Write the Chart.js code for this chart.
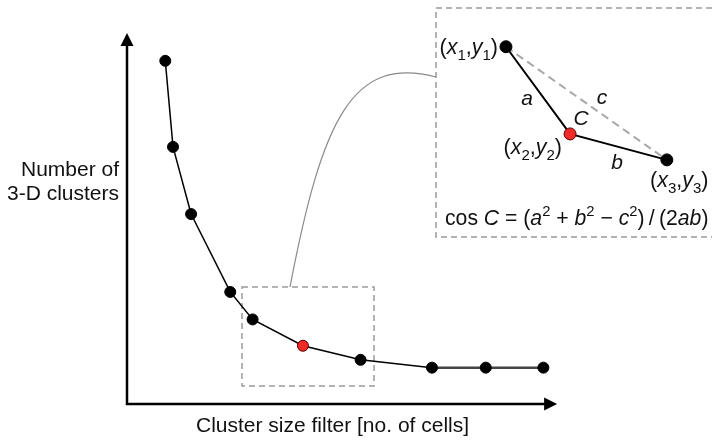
<!DOCTYPE html>
<html>
<head>
<meta charset="utf-8">
<script src="https://cdn.jsdelivr.net/npm/chart.js@4/dist/chart.umd.min.js"></script>
<style>
  body { margin: 0; background: #fff; }
  #wrap { width: 713px; height: 440px; position: relative; }
</style>
</head>
<body>
<div id="wrap"><canvas id="elbowChart"></canvas></div>
<script>
// main curve (arbitrary units, drawn axis runs 0..100)
var clusterSize  = [8.9, 10.7, 14.9, 24.0, 29.2, 40.9, 54.3, 70.9, 83.4, 96.8];
var clusterCount = [92.5, 69.3, 51.2, 30.2, 22.8, 15.7, 11.9, 9.8, 9.8, 9.8];
var kneeIndex = 5;

// inset triangle (x1,y1) (x2,y2) (x3,y3)
var insetX = [88.1, 103.0, 125.5];
var insetY = [96.3, 72.8, 65.8];

var FONT = '"Liberation Sans", Arial, Helvetica, sans-serif';

function toPoints(xs, ys) {
  return xs.map(function (x, i) { return { x: x, y: ys[i] }; });
}

// draws text made of runs: {t, it, sub, sup}
function richText(ctx, x, y, runs, size, align) {
  var parts = runs.map(function (r) {
    var s = (r.sub || r.sup) ? size * 0.7 : size;
    var f = (r.it ? 'italic ' : '') + s + 'px ' + FONT;
    ctx.font = f;
    return { t: r.t, f: f, w: ctx.measureText(r.t).width, dy: r.sub ? size * 0.3 : (r.sup ? -size * 0.42 : 0) };
  });
  var total = parts.reduce(function (a, p) { return a + p.w; }, 0);
  var cx = align === 'right' ? x - total : (align === 'center' ? x - total / 2 : x);
  ctx.textAlign = 'left';
  ctx.textBaseline = 'alphabetic';
  parts.forEach(function (p) {
    ctx.font = p.f;
    ctx.fillText(p.t, cx, y + p.dy);
    cx += p.w;
  });
}

function pointLabel(n) {
  return [{ t: '(' }, { t: 'x', it: true }, { t: String(n), sub: true }, { t: ',' },
          { t: 'y', it: true }, { t: String(n), sub: true }, { t: ')' }];
}

var decorations = {
  id: 'decorations',
  beforeDatasetsDraw: function (chart) {
    var ctx = chart.ctx;
    var xs = chart.scales.x, ys = chart.scales.y;
    var x0 = xs.getPixelForValue(0), xEnd = xs.getPixelForValue(100);
    var y0 = ys.getPixelForValue(0), yEnd = ys.getPixelForValue(100);
    ctx.save();

    // dashed boxes
    ctx.strokeStyle = '#9a9a9a';
    ctx.lineWidth = 1.5;
    ctx.setLineDash([6, 4]);
    ctx.strokeRect(242, 287, 132, 99);
    ctx.beginPath();
    ctx.moveTo(712, 8); ctx.lineTo(436, 8); ctx.lineTo(436, 237); ctx.lineTo(712, 237);
    ctx.stroke();
    ctx.setLineDash([]);

    // connector
    ctx.strokeStyle = '#8a8a8a';
    ctx.lineWidth = 1.2;
    ctx.beginPath();
    ctx.moveTo(290, 287);
    ctx.bezierCurveTo(322, 120, 352, 55, 436, 77);
    ctx.stroke();

    // axes with arrow heads
    ctx.strokeStyle = '#000';
    ctx.fillStyle = '#000';
    ctx.lineWidth = 2.5;
    ctx.beginPath();
    ctx.moveTo(x0, y0 + 1.2); ctx.lineTo(x0, yEnd + 12);
    ctx.moveTo(x0 - 1.2, y0); ctx.lineTo(xEnd - 12, y0);
    ctx.stroke();
    ctx.beginPath();
    ctx.moveTo(x0, yEnd); ctx.lineTo(x0 - 6.5, yEnd + 13); ctx.lineTo(x0 + 6.5, yEnd + 13); ctx.closePath();
    ctx.fill();
    ctx.beginPath();
    ctx.moveTo(xEnd, y0); ctx.lineTo(xEnd - 13, y0 - 6.5); ctx.lineTo(xEnd - 13, y0 + 6.5); ctx.closePath();
    ctx.fill();
    ctx.restore();
  },
  afterDatasetsDraw: function (chart) {
    var ctx = chart.ctx;
    ctx.save();
    ctx.fillStyle = '#111';

    // axis titles
    richText(ctx, 119, 176, [{ t: 'Number of' }], 21, 'right');
    richText(ctx, 119, 200, [{ t: '3-D clusters' }], 21, 'right');
    richText(ctx, 196, 432, [{ t: 'Cluster size filter [no. of cells]' }], 21, 'left');

    // inset labels
    richText(ctx, 498, 54, pointLabel(1), 21.5, 'right');
    richText(ctx, 562, 154, pointLabel(2), 21.5, 'right');
    richText(ctx, 650, 187, pointLabel(3), 21.5, 'left');
    richText(ctx, 527, 105, [{ t: 'a', it: true }], 21, 'center');
    richText(ctx, 602, 104, [{ t: 'c', it: true }], 21, 'center');
    richText(ctx, 581, 125, [{ t: 'C', it: true }], 21, 'center');
    richText(ctx, 617, 169, [{ t: 'b', it: true }], 21, 'center');
    richText(ctx, 445, 225, [
      { t: 'cos ' }, { t: 'C', it: true }, { t: ' = (' }, { t: 'a', it: true }, { t: '2', sup: true },
      { t: ' + ' }, { t: 'b', it: true }, { t: '2', sup: true }, { t: ' \u2212 ' }, { t: 'c', it: true },
      { t: '2', sup: true }, { t: ')\u2009/\u2009(2' }, { t: 'ab', it: true }, { t: ')' }
    ], 21.2, 'left');
    ctx.restore();
  }
};

var pointColors = clusterSize.map(function (v, i) { return i === kneeIndex ? '#ee2b26' : '#000'; });
var pointBorders = clusterSize.map(function (v, i) { return i === kneeIndex ? '#5a0000' : '#000'; });

new Chart(document.getElementById('elbowChart'), {
  type: 'scatter',
  data: {
    datasets: [{
      // main curve
      data: toPoints(clusterSize, clusterCount),
      showLine: true,
      borderColor: '#000',
      borderWidth: 1.5,
      pointRadius: 5.5,
      pointBackgroundColor: pointColors,
      pointBorderColor: pointBorders,
      pointBorderWidth: 1,
      segment: {
        borderColor: function (c) { return c.p0DataIndex >= 7 ? '#444' : undefined; },
        borderWidth: function (c) { return c.p0DataIndex >= 7 ? 2.5 : undefined; }
      }
    }, {
      // sides a and b
      data: toPoints(insetX, insetY),
      showLine: true,
      clip: false,
      borderColor: '#000',
      borderWidth: 2,
      pointRadius: 6,
      pointBackgroundColor: ['#000', '#ee2b26', '#000'],
      pointBorderColor: ['#000', '#5a0000', '#000'],
      pointBorderWidth: 1
    }, {
      // side c
      data: toPoints([insetX[0], insetX[2]], [insetY[0], insetY[2]]),
      showLine: true,
      clip: false,
      borderColor: '#a8a8a8',
      borderWidth: 2,
      borderDash: [8, 5],
      pointRadius: 0
    }]
  },
  options: {
    responsive: true,
    maintainAspectRatio: false,
    animation: false,
    layout: { autoPadding: false, padding: { left: 127, right: 1, top: 33, bottom: 36 } },
    scales: {
      // x range runs past the drawn axis so the inset sits inside the plot area
      x: { type: 'linear', min: 0, max: 136, display: false },
      y: { type: 'linear', min: 0, max: 100, display: false }
    },
    plugins: {
      legend: { display: false },
      tooltip: { enabled: false }
    }
  },
  plugins: [decorations]
});
</script>
</body>
</html>
